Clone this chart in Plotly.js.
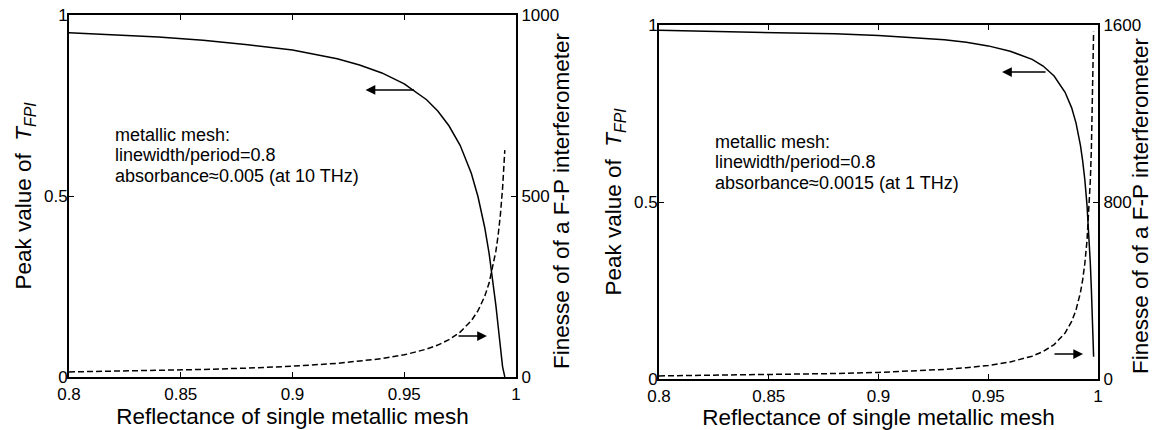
<!DOCTYPE html>
<html>
<head>
<meta charset="utf-8">
<script src="https://cdn.plot.ly/plotly-3.0.1.min.js"></script>
<style>html,body{margin:0;padding:0;background:#fff;}#chart{width:1156px;height:430px;}</style>
</head>
<body>
<div id="chart"></div>
<script>
// ---- data ----
// left panel (absorbance ~0.005 at 10 THz)
const reflLeft = [0.80, 0.82, 0.84, 0.86, 0.88, 0.90, 0.92, 0.93, 0.94, 0.95, 0.96, 0.965, 0.97, 0.975, 0.98, 0.983, 0.986, 0.988, 0.99, 0.991, 0.992, 0.993, 0.994, 0.995];
const peakLeft = [0.951, 0.945, 0.939, 0.930, 0.918, 0.903, 0.879, 0.862, 0.840, 0.810, 0.766, 0.735, 0.694, 0.640, 0.563, 0.498, 0.413, 0.340, 0.250, 0.198, 0.141, 0.082, 0.028, 0.0];
const finesseLeft = [14.0, 15.8, 18.0, 20.8, 24.6, 29.8, 37.7, 43.3, 50.8, 61.2, 77.0, 88.2, 103.1, 124.1, 155.5, 183.2, 222.8, 260.2, 312.6, 347.5, 391.1, 447.2, 522.0, 626.7];

// right panel (absorbance ~0.0015 at 1 THz)
const reflRight = [0.80, 0.82, 0.84, 0.86, 0.88, 0.90, 0.92, 0.93, 0.94, 0.95, 0.96, 0.97, 0.975, 0.98, 0.985, 0.988, 0.99, 0.992, 0.993, 0.994, 0.995, 0.996, 0.9965, 0.997, 0.9975, 0.998];
const peakRight = [0.985, 0.983, 0.981, 0.979, 0.975, 0.970, 0.963, 0.958, 0.951, 0.941, 0.926, 0.903, 0.884, 0.856, 0.810, 0.766, 0.723, 0.660, 0.617, 0.563, 0.490, 0.391, 0.327, 0.250, 0.160, 0.063];
const finesseRight = [14.0, 15.8, 18.0, 20.8, 24.6, 29.8, 37.7, 43.3, 50.8, 61.2, 77.0, 103.1, 124.1, 155.5, 207.9, 260.2, 312.6, 391.1, 447.2, 522.0, 626.7, 783.8, 896.0, 1045.6, 1255.1, 1569.2];

// ticks and labels
const xTickVals = [0.8, 0.85, 0.9, 0.95, 1];
const xTickText = ['0.8', '0.85', '0.9', '0.95', '1'];
const peakTickVals = [0, 0.5, 1];
const peakTickText = ['0', '0.5', '1'];
const finLeftTickVals = [0, 500, 1000];
const finLeftTickText = ['0', '500', '1000'];
const finRightTickVals = [0, 800, 1600];
const finRightTickText = ['0', '800', '1600'];

const xTitle = 'Reflectance of single metallic mesh';
const yTitle = 'Peak value of  <i>T</i><sub><i>FPI</i></sub>';
const y2Title = 'Finesse of of a F-P interferometer';
const noteLeft = ['metallic mesh:', 'linewidth/period=0.8', 'absorbance\u22480.005 (at 10 THz)'];
const noteRight = ['metallic mesh:', 'linewidth/period=0.8', 'absorbance\u22480.0015 (at 1 THz)'];

// ---- styling ----
const FONT = 'Liberation Sans, Arial, Helvetica, sans-serif';
const W = 1156, H = 430;
const px = v => v / W;
const py = v => 1 - v / H;

const solid = {color: '#000', width: 1.5};
const dashed = {color: '#000', width: 1.5, dash: '6px,3px'};

const traces = [
  {x: reflLeft, y: peakLeft, xaxis: 'x', yaxis: 'y', mode: 'lines', line: solid, name: 'Peak T (left)', showlegend: false},
  {x: reflLeft, y: finesseLeft, xaxis: 'x', yaxis: 'y2', mode: 'lines', line: dashed, name: 'Finesse (left)', showlegend: false},
  {x: reflRight, y: peakRight, xaxis: 'x2', yaxis: 'y3', mode: 'lines', line: solid, name: 'Peak T (right)', showlegend: false},
  {x: reflRight, y: finesseRight, xaxis: 'x2', yaxis: 'y4', mode: 'lines', line: dashed, name: 'Finesse (right)', showlegend: false}
];

const tickFont = {family: FONT, size: 17, color: '#000'};
const titleFont = {family: FONT, size: 22.5, color: '#000'};
const noteFont = {family: FONT, size: 18, color: '#000'};

function xAxis(domain, anchor) {
  return {
    domain: domain, anchor: anchor, range: [0.8, 1],
    tickmode: 'array', tickvals: xTickVals, ticktext: xTickText,
    ticks: 'inside', ticklen: 5, tickwidth: 1, tickcolor: '#000',
    showline: true, linecolor: '#000', linewidth: 2, mirror: 'ticks',
    showgrid: false, zeroline: false, tickfont: tickFont,
    ticklabelstandoff: 1,
    title: {text: xTitle, font: titleFont, standoff: 3},
    automargin: false
  };
}
function yLeft(domain, anchor) {
  return {
    domain: domain, anchor: anchor, range: [0, 1],
    tickmode: 'array', tickvals: peakTickVals, ticktext: peakTickText,
    ticks: 'inside', ticklen: 5, tickwidth: 1, tickcolor: '#000',
    showline: true, linecolor: '#000', linewidth: 2,
    showgrid: false, zeroline: false, tickfont: tickFont,
    ticklabelstandoff: -4,
    title: {text: yTitle, font: titleFont, standoff: 6},
    automargin: false
  };
}
function yRight(overlay, anchor, maxV, vals, txt) {
  return {
    overlaying: overlay, anchor: anchor, side: 'right', range: [0, maxV],
    tickmode: 'array', tickvals: vals, ticktext: txt,
    ticks: 'inside', ticklen: 5, tickwidth: 1, tickcolor: '#000',
    showline: true, linecolor: '#000', linewidth: 2,
    showgrid: false, zeroline: false, tickfont: tickFont,
    automargin: false
  };
}

const leftX = [px(69), px(516)], leftY = [1 - 377 / H, 1 - 15 / H];
const rightX = [px(659), px(1098)], rightY = [1 - 379 / H, 1 - 25 / H];

function arrow(xr, yr, hx, hy, tx, ty) {
  return {xref: xr, yref: yr, axref: xr, ayref: yr, x: hx, y: hy, ax: tx, ay: ty,
    text: '', showarrow: true, arrowhead: 2, arrowsize: 1.3, arrowwidth: 1.5, arrowcolor: '#000'};
}
function noteLine(txt, xPix, yPix) {
  return {xref: 'paper', yref: 'paper', x: px(xPix), y: py(yPix), xanchor: 'left', yanchor: 'middle',
    align: 'left', text: txt, showarrow: false, font: noteFont};
}

const annotations = [
  noteLine(noteLeft[0], 113, 134.5),
  noteLine(noteLeft[1], 113, 155),
  noteLine(noteLeft[2], 113, 175.5),
  noteLine(noteRight[0], 713, 141.5),
  noteLine(noteRight[1], 713, 162),
  noteLine(noteRight[2], 713, 182.5),
  {xref: 'paper', yref: 'paper', x: px(561), y: py(201), xanchor: 'center', yanchor: 'middle', textangle: -90,
   text: y2Title, showarrow: false, font: titleFont},
  {xref: 'paper', yref: 'paper', x: px(1140), y: py(206), xanchor: 'center', yanchor: 'middle', textangle: -90,
   text: y2Title, showarrow: false, font: titleFont},
  arrow('x', 'y', 0.9327, 0.793, 0.955, 0.793),
  arrow('x', 'y2', 0.987, 113, 0.9736, 113),
  arrow('x2', 'y3', 0.9563, 0.867, 0.9768, 0.867),
  arrow('x2', 'y4', 0.9932, 113, 0.9795, 113)
];

const layout = {
  width: W, height: H,
  margin: {l: 0, r: 0, t: 0, b: 0, pad: 0},
  paper_bgcolor: '#fff', plot_bgcolor: 'rgba(0,0,0,0)',
  font: {family: FONT, color: '#000'},
  showlegend: false,
  xaxis: xAxis(leftX, 'y'),
  yaxis: yLeft(leftY, 'x'),
  yaxis2: yRight('y', 'x', 1000, finLeftTickVals, finLeftTickText),
  xaxis2: xAxis(rightX, 'y3'),
  yaxis3: yLeft(rightY, 'x2'),
  yaxis4: yRight('y3', 'x2', 1600, finRightTickVals, finRightTickText),
  annotations: annotations
};

Plotly.newPlot('chart', traces, layout, {staticPlot: true, displayModeBar: false});
</script>
</body>
</html>
